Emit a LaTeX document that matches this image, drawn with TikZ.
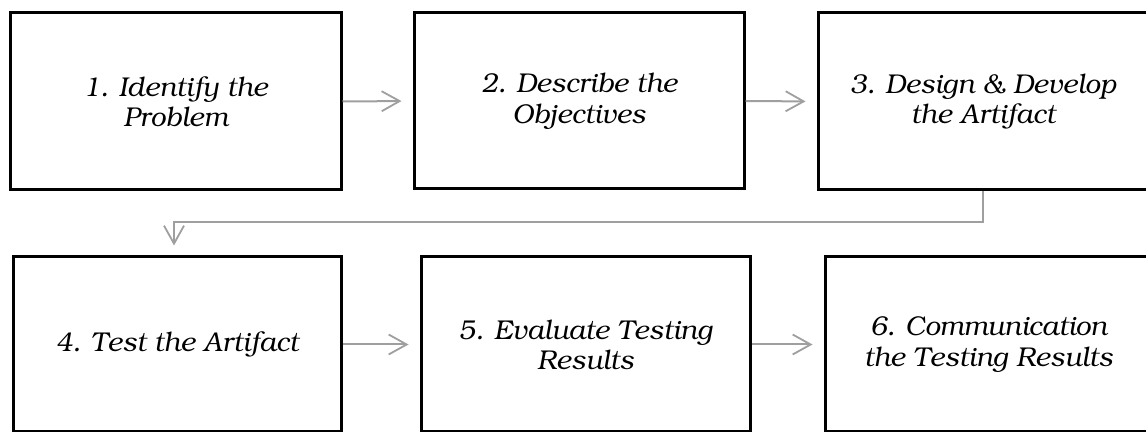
\documentclass[tikz,border=0pt]{standalone}
\usepackage[T1]{fontenc}
\usepackage{bookman}
\usetikzlibrary{arrows.meta}
\begin{document}
\begin{tikzpicture}[x=0.5pt,y=-0.5pt,
  box/.style={draw=black,line width=1.5pt,rectangle,inner sep=0pt,align=center,
    font=\fontsize{13.6pt}{15.2pt}\selectfont\itshape},
  flow/.style={draw=gray!75,line width=1pt,shorten >=5.5pt,
    -{Straight Barb[length=9pt,width=10pt,line width=0.9pt]}}]
\useasboundingbox (0,0) rectangle (1146,432);
\clip (0,0) rectangle (1146,432);
\node[box,minimum width=165.5pt,minimum height=88.5pt] (b1) at (175.5,101.5) {1. Identify the\\Problem};
\node[box,minimum width=165pt,minimum height=88pt] (b2) at (579,101) {2. Describe the\\Objectives};
\node[box,minimum width=165pt,minimum height=88.5pt] (b3) at (983,101.5) {3. Design \& Develop\\the Artifact};
\node[box,minimum width=164pt,minimum height=87.5pt] (b4) at (177,344.5) {4. Test the Artifact};
\node[box,minimum width=164.5pt,minimum height=87.5pt] (b5) at (585.5,344.5) {5. Evaluate Testing\\Results};
\node[box,minimum width=163.5pt,minimum height=87.5pt] (b6) at (988.5,344.5) {6. Communication\\the Testing Results};
\coordinate (turn) at (174,222.5);
\draw[flow] (b1.east) -- (b2.west);
\draw[flow] (b2.east) -- (b3.west);
\draw[flow,shorten >=5pt] (b3.south) |- (turn) -- (turn |- b4.north);
\draw[flow] (b4.east) -- (b5.west);
\draw[flow] (b5.east) -- (b6.west);
\end{tikzpicture}
\end{document}
